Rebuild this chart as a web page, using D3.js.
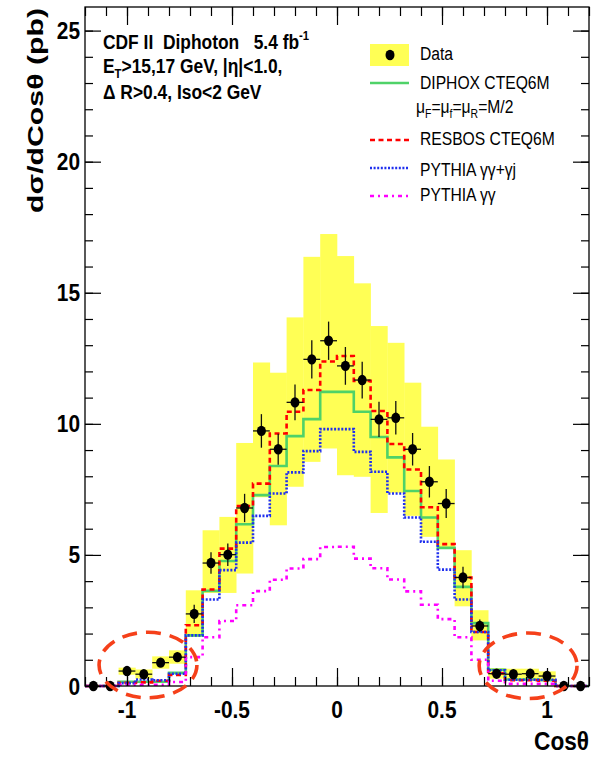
<!DOCTYPE html>
<head>
  <meta charset="utf-8">
  <script src="https://d3js.org/d3.v7.min.js"></script>
  <style>
    body { margin: 0; background: #fff; }
    text { font-family: "Liberation Sans", Arial, Helvetica, sans-serif; fill: #000; white-space: pre; }
    text.tickLabel { font-size: 24px; font-weight: bold; }
    text.axisTitle { font-size: 22px; font-weight: bold; }
    text.xTitle { font-size: 26px; font-weight: bold; }
    text.info { font-size: 20px; font-weight: bold; }
    text.legend { font-size: 18px; }
    .tick line { stroke: #000; stroke-width: 1.2; }
    path.domain { display: none; }
  </style>
</head>

<body>
  <script>
    var width = 603, height = 759;
    var binWidth = 0.08;

    // 30 bins of 0.08 from -1.2 to 1.2
    var binCentres = [-1.16, -1.08, -1.00, -0.92, -0.84, -0.76, -0.68, -0.60, -0.52, -0.44,
      -0.36, -0.28, -0.20, -0.12, -0.04, 0.04, 0.12, 0.20, 0.28, 0.36,
      0.44, 0.52, 0.60, 0.68, 0.76, 0.84, 0.92, 1.00, 1.08, 1.16];

    var dataValues = [0, 0, 0.57, 0.45, 0.89, 1.10, 2.75, 4.69, 5.01, 6.79,
      9.73, 9.03, 10.82, 12.46, 13.17, 12.21, 11.67, 10.17, 10.23, 9.03,
      7.79, 6.96, 4.14, 2.29, 0.47, 0.45, 0.47, 0.38, 0, 0];

    var statErrors = [0, 0, 0.15, 0.14, 0.16, 0.18, 0.35, 0.41, 0.43, 0.54,
      0.64, 0.59, 0.68, 0.73, 0.73, 0.72, 0.70, 0.67, 0.64, 0.62,
      0.60, 0.55, 0.41, 0.25, 0.12, 0.12, 0.12, 0.14, 0, 0];

    // systematic band (yellow)
    var bandLow = [0, 0, 0.43, 0.28, 0.66, 0.85, 1.87, 3.55, 3.55, 4.29,
      7.20, 6.13, 7.60, 8.55, 9.06, 8.04, 7.98, 6.60, 7.37, 6.49,
      5.69, 5.28, 3.04, 1.74, 0.28, 0.27, 0.28, 0.22, 0, 0];
    var bandHigh = [0, 0, 0.70, 0.63, 1.13, 1.36, 3.65, 5.94, 6.45, 9.27,
      12.34, 11.95, 14.06, 16.37, 17.24, 16.40, 15.36, 13.73, 13.09, 11.57,
      9.89, 8.64, 5.18, 2.89, 0.68, 0.66, 0.66, 0.56, 0, 0];

    var diphox = [0, 0, 0.16, 0.16, 0.16, 0.50, 1.93, 3.63, 4.77, 6.17,
      7.28, 8.39, 9.53, 10.18, 11.22, 11.22, 10.46, 9.50, 8.72, 7.44,
      6.43, 5.27, 3.78, 2.40, 0.62, 0.25, 0.25, 0.22, 0, 0];

    var resbos = [0, 0, 0.12, 0.14, 0.20, 0.42, 2.32, 3.68, 5.24, 6.86,
      7.72, 9.63, 10.46, 11.29, 12.38, 12.59, 11.64, 10.49, 9.23, 8.26,
      6.82, 5.41, 4.14, 2.06, 0.48, 0.22, 0.22, 0.20, 0, 0];

    var pythiaAll = [0, 0, 0.11, 0.25, 0.22, 0.47, 1.93, 3.30, 4.42, 5.47,
      6.49, 7.34, 8.15, 8.96, 9.80, 9.80, 8.93, 8.17, 7.34, 6.43,
      5.50, 4.44, 3.30, 2.06, 0.60, 0.24, 0.24, 0.24, 0, 0];

    var pythiaGG = [0, 0, 0.05, 0.05, 0.05, 0.15, 1.10, 1.86, 2.48, 3.08,
      3.62, 4.05, 4.48, 4.84, 5.30, 5.31, 4.86, 4.49, 4.06, 3.61,
      3.10, 2.55, 1.86, 1.00, 0.20, 0.08, 0.08, 0.08, 0, 0];

    var xMajor = [-1, -0.5, 0, 0.5, 1];
    var xMajorLabels = ['-1', '-0.5', '0', '0.5', '1'];
    var yMajor = [0, 5, 10, 15, 20, 25];

    // dashed circles marking the forward regions
    var markCx = [-0.90, 0.91];
    var markCy = [0.80, 0.77];
    var markRx = 0.233, markRy = 1.25;

    var SQ = 0.87; // narrow text like the original

    var svg = d3.select("body").append("svg")
      .attr("width", width)
      .attr("height", height);

    var x = d3.scaleLinear().domain([-1.2, 1.2]).range([85, 589]);
    var y = d3.scaleLinear().domain([0, 25.9]).range([686, 7]);

    var bins = binCentres.map((c, i) => ({
      c: c, v: dataValues[i], e: statErrors[i], lo: bandLow[i], hi: bandHigh[i]
    }));

    // yellow band
    svg.selectAll('rect.band')
      .data(bins.filter(d => d.hi > d.lo))
      .enter().append('rect')
      .attr('class', 'band')
      .attr('x', d => x(d.c - binWidth / 2))
      .attr('width', d => x(d.c + binWidth / 2) - x(d.c - binWidth / 2) + 0.3)
      .attr('y', d => y(d.hi))
      .attr('height', d => y(d.lo) - y(d.hi))
      .style('fill', '#ffff55');

    // step histograms
    function stepPoints(vals) {
      var pts = binCentres.map((c, i) => [c - binWidth / 2, vals[i]]);
      pts.push([binCentres[binCentres.length - 1] + binWidth / 2, vals[vals.length - 1]]);
      return pts;
    }
    var step = d3.line().x(d => x(d[0])).y(d => y(d[1])).curve(d3.curveStepAfter);

    var series = [
      { vals: diphox, color: '#4fd268', dash: null },
      { vals: resbos, color: '#ff0000', dash: '5,3.5' },
      { vals: pythiaAll, color: '#1f2fee', dash: '2,1.6' },
      { vals: pythiaGG, color: '#ff00ff', dash: '4,4,2,4' }
    ];

    series.forEach(s => {
      svg.append('path')
        .attr('d', step(stepPoints(s.vals)))
        .style('fill', 'none')
        .style('stroke', s.color)
        .style('stroke-width', 2.6)
        .style('stroke-dasharray', s.dash);
    });

    // frame + ticks
    svg.append('rect')
      .attr('x', x(-1.2)).attr('y', y(25.9))
      .attr('width', x(1.2) - x(-1.2)).attr('height', y(0) - y(25.9))
      .style('fill', 'none').style('stroke', '#000').style('stroke-width', 1.3);

    var xMinor = d3.range(-12, 13).map(d => d / 10);
    var yMinor = d3.range(0, 26);

    svg.append('g').attr('transform', `translate(0,${y(0)})`)
      .call(d3.axisBottom(x).tickValues(xMinor).tickSize(-9).tickSizeOuter(0).tickFormat(''));
    svg.append('g').attr('transform', `translate(0,${y(0)})`)
      .call(d3.axisBottom(x).tickValues(xMajor).tickSize(-18).tickSizeOuter(0).tickFormat(''));
    svg.append('g').attr('transform', `translate(0,${y(25.9)})`)
      .call(d3.axisTop(x).tickValues(xMinor).tickSize(-9).tickSizeOuter(0).tickFormat(''));
    svg.append('g').attr('transform', `translate(0,${y(25.9)})`)
      .call(d3.axisTop(x).tickValues(xMajor).tickSize(-18).tickSizeOuter(0).tickFormat(''));

    svg.append('g').attr('transform', `translate(${x(-1.2)},0)`)
      .call(d3.axisLeft(y).tickValues(yMinor).tickSize(-8).tickSizeOuter(0).tickFormat(''));
    svg.append('g').attr('transform', `translate(${x(-1.2)},0)`)
      .call(d3.axisLeft(y).tickValues(yMajor).tickSize(-16).tickSizeOuter(0).tickFormat(''));
    svg.append('g').attr('transform', `translate(${x(1.2)},0)`)
      .call(d3.axisRight(y).tickValues(yMinor).tickSize(-8).tickSizeOuter(0).tickFormat(''));
    svg.append('g').attr('transform', `translate(${x(1.2)},0)`)
      .call(d3.axisRight(y).tickValues(yMajor).tickSize(-16).tickSizeOuter(0).tickFormat(''));

    function put(px, py, cls, anchor) {
      return svg.append('text')
        .attr('class', cls)
        .attr('transform', `translate(${px},${py}) scale(${SQ},1)`)
        .style('text-anchor', anchor || 'start');
    }

    yMajor.forEach(v => put(80, y(v) + 8.5, 'tickLabel', 'end').text(v));
    xMajor.forEach((v, i) => put(x(v), 718, 'tickLabel', 'middle').text(xMajorLabels[i]));

    svg.append('text')
      .attr('class', 'axisTitle')
      .attr('transform', 'translate(43,8) rotate(-90)')
      .attr('textLength', 205)
      .attr('lengthAdjust', 'spacingAndGlyphs')
      .style('text-anchor', 'end')
      .text('dσ/dCosθ (pb)');

    put(589, 750, 'xTitle', 'end').text('Cosθ');

    // data points
    var pts = svg.append('g');
    pts.selectAll('line.ey')
      .data(bins.filter(d => d.e > 0))
      .enter().append('line')
      .attr('x1', d => x(d.c)).attr('x2', d => x(d.c))
      .attr('y1', d => y(d.v - d.e)).attr('y2', d => y(d.v + d.e))
      .style('stroke', '#111').style('stroke-width', 1.3);
    pts.selectAll('line.ex')
      .data(bins.filter(d => d.e > 0))
      .enter().append('line')
      .attr('x1', d => x(d.c - binWidth / 2)).attr('x2', d => x(d.c + binWidth / 2))
      .attr('y1', d => y(d.v)).attr('y2', d => y(d.v))
      .style('stroke', '#111').style('stroke-width', 1.3);
    pts.selectAll('ellipse')
      .data(bins)
      .enter().append('ellipse')
      .attr('cx', d => x(d.c)).attr('cy', d => y(d.v))
      .attr('rx', 4.5).attr('ry', 5.2)
      .style('fill', '#000');

    // dashed marker ellipses
    svg.selectAll('ellipse.mark')
      .data(markCx)
      .enter().append('ellipse')
      .attr('class', 'mark')
      .attr('cx', d => x(d))
      .attr('cy', (d, i) => y(markCy[i]))
      .attr('rx', x(markRx) - x(0))
      .attr('ry', y(0) - y(markRy))
      .style('fill', 'none')
      .style('stroke', '#f5401a')
      .style('stroke-width', 3.6)
      .style('stroke-dasharray', '15,9');

    // info text
    var t1 = put(103, 48.5, 'info');
    t1.append('tspan').text('CDF II  Diphoton   5.4 fb');
    t1.append('tspan').attr('dy', -9).style('font-size', '13px').text('-1');

    var t2 = put(103, 72.5, 'info');
    t2.append('tspan').text('E');
    t2.append('tspan').attr('dy', 5).style('font-size', '13px').text('T');
    t2.append('tspan').attr('dy', -5).text('>15,17 GeV, |η|<1.0,');

    put(103, 98.5, 'info').text('Δ R>0.4, Iso<2 GeV');

    // legend
    var lx0 = 370, lx1 = 409, tx = 420;
    svg.append('rect').attr('x', lx0).attr('y', 44).attr('width', lx1 - lx0).attr('height', 22)
      .style('fill', '#ffff55');
    svg.append('ellipse').attr('cx', 390).attr('cy', 55).attr('rx', 4.5).attr('ry', 5.2).style('fill', '#000');
    put(tx, 60, 'legend').text('Data');

    var legendLines = [
      { y: 83, color: '#4fd268', dash: null, label: 'DIPHOX CTEQ6M', ty: 89 },
      { y: 140, color: '#ff0000', dash: '5,3.5', label: 'RESBOS CTEQ6M', ty: 145 },
      { y: 168, color: '#1f2fee', dash: '2,1.6', label: 'PYTHIA γγ+γj', ty: 176 },
      { y: 196, color: '#ff00ff', dash: '4,4,2,4', label: 'PYTHIA γγ', ty: 201 }
    ];
    legendLines.forEach(l => {
      svg.append('line').attr('x1', lx0).attr('x2', lx1).attr('y1', l.y).attr('y2', l.y)
        .style('stroke', l.color).style('stroke-width', 2.6).style('stroke-dasharray', l.dash);
      put(tx, l.ty, 'legend').text(l.label);
    });

    // mu_F = mu_f = mu_R = M/2
    var mu = put(416, 113, 'legend');
    var muParts = [['μ', 0, null], ['F', 5, '12px'], ['=μ', -5, null], ['f', 5, '12px'],
      ['=μ', -5, null], ['R', 5, '12px'], ['=M/2', -5, null]];
    muParts.forEach(p => {
      var ts = mu.append('tspan').attr('dy', p[1]).text(p[0]);
      if (p[2]) ts.style('font-size', p[2]);
    });
  </script>
</body>
